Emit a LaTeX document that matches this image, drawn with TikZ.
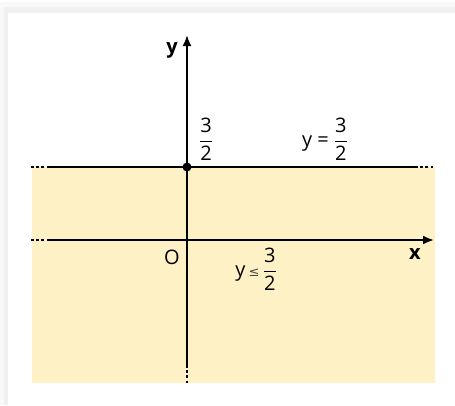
\documentclass[tikz,border=0pt]{standalone}
\usepackage{amsmath}
\usepackage{fontspec}
\setmainfont{Open Sans}
\newfontfamily\symfont{DejaVu Sans}
\usetikzlibrary{arrows.meta}
\definecolor{halfplane}{RGB}{255,241,198}
\tikzset{
  axis/.style={line width=2pt,-{Latex[length=11pt,width=9pt]}},
  bound/.style={line width=2pt},
  tail/.style={line width=2pt,dash pattern=on 3pt off 2.2pt},
  lbl/.style={inner sep=0pt,font=\fontsize{20}{22}\selectfont}
}
\newcommand{\half}{$\dfrac{\text{3}}{\text{2}}$}
\begin{document}
\begin{tikzpicture}[x=1pt,y=-1pt]
\useasboundingbox (0,0) rectangle (455,405);
% frame with soft shadow
\fill[gray!5] (0,2) rectangle (455,405);
\fill[gray!12] (4,7) rectangle (455,405);
\fill[white] (8,13) rectangle (455,405);
% shaded half plane y <= 3/2
\fill[halfplane] (32,167) rectangle (435,383);
\coordinate (O) at (187,240);
\coordinate (xl) at (31,240);\coordinate (xs) at (50,240);\coordinate (xe) at (434,240);
\coordinate (yb) at (187,383);\coordinate (ys) at (187,365);\coordinate (ye) at (187,35);
\coordinate (P) at (187,167);
\coordinate (ll) at (31,167);\coordinate (ls) at (48,167);
\coordinate (le) at (415,167);\coordinate (lr) at (433,167);
% axes
\draw[axis] (xs)--(xe);\draw[tail] (xl)--(xs);
\draw[axis] (ys)--(ye);\draw[tail] (ys)--(yb);
% boundary line
\draw[bound] (ls)--(le);
\draw[tail] (ll)--(ls);\draw[tail] (le)--(lr);
\fill (P) circle (4.5pt);
% labels
\node[lbl,font=\fontsize{20}{22}\selectfont\bfseries] (ylab) at (172,50) {y};
\node[lbl,font=\fontsize{20}{22}\selectfont\bfseries] (xlab) at (415,254) {x};
\node[lbl] (olab) at (172,257) {O};
\node[lbl] (plab) at (206,139) {\half};
\node[lbl] (eqlab) at (325,139) {y = \half};
\node[lbl] (ineq) at (256,269) {y\,{\symfont\fontsize{13}{15}\selectfont\color{black!70}≤}\,\half};
\end{tikzpicture}
\end{document}
